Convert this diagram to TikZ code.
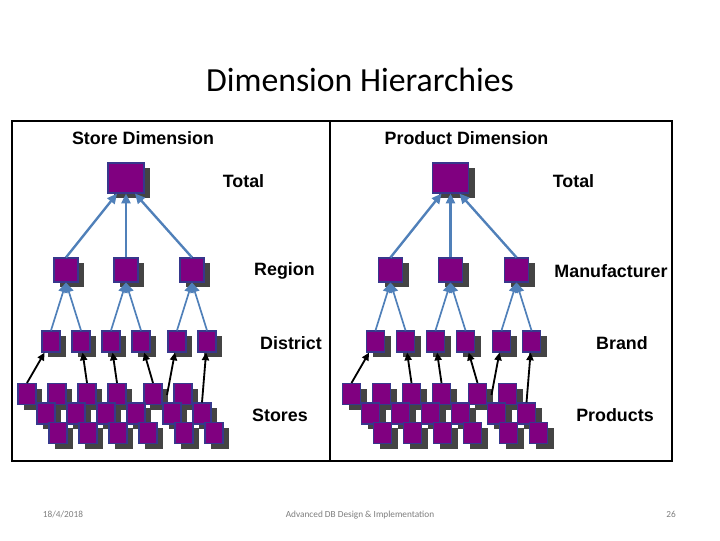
\documentclass[tikz,border=0pt]{standalone}
\usepackage{fontspec}
\setmainfont{Liberation Sans}
\newfontfamily\titlefont{Carlito}
\usetikzlibrary{arrows.meta,shadows}
\definecolor{viola}{RGB}{128,0,128}
\definecolor{bordo}{RGB}{55,55,140}
\definecolor{ombra}{RGB}{68,68,68}
\definecolor{azzurro}{RGB}{80,128,185}
\definecolor{grigio}{RGB}{125,125,125}
\tikzset{
>=Stealth,
square node/.style={rectangle,draw=bordo,line width=0.8pt,fill=viola,inner sep=0pt,
  drop shadow={shadow xshift=0.15cm,shadow yshift=-0.13cm,opacity=1,fill=ombra}},
total node/.style={square node,minimum width=0.9cm,minimum height=0.75cm},
level node/.style={square node,minimum width=0.6cm,minimum height=0.6cm},
base node/.style={square node,minimum width=0.45cm,minimum height=0.525cm},
blue arrow/.style={-{Triangle[length=7pt,width=6.5pt]},draw=azzurro,line width=1.7pt},
black arrow/.style={-{Triangle[length=5.5pt,width=5pt]},line width=1.3pt},
level label/.style={font=\fontsize{12.7}{15}\selectfont\bfseries},
footer/.style={font=\titlefont\fontsize{6.6}{8}\selectfont,text=grigio,anchor=base}}

\begin{document}
\begin{tikzpicture}[x=0.025cm,y=-0.025cm]
\useasboundingbox (0,0) rectangle (720,540);

\node[font=\titlefont\fontsize{24}{28}\selectfont] (titolo) at (360,80) {Dimension Hierarchies};
\draw[line width=1.5pt] (12,121) rectangle (672,461);
\draw[line width=1.5pt] (330,121) -- (330,461);

% le due gerarchie: st = negozi, pr = prodotti
\foreach \s/\dx in {st/0,pr/324.5}{
\begin{scope}[shift={(\dx,0)}]
  \node[total node] (\s-tot) at (126,178) {};
  \foreach \g/\gx in {1/0,2/60,3/126}{
    \node[level node] (\s-r\g) at (66+\gx,270) {};
    \foreach \j in {0,1}
      \node[base node] (\s-d\g\j) at (51+\gx+30*\j,341.5) {};
  }
  \foreach \row/\rx/\ry in {1/27/394,2/46/413.5,3/58/433}
    \foreach \g/\gx in {1/0,2/60,3/126}
      \foreach \j in {0,1}
        \node[base node] (\s-\g\j-\row) at (\rx+\gx+30*\j,\ry) {};
  \coordinate (\s-c5) at (167,395);

  \foreach \g/\a in {1/-120,2/-90,3/-60}
    \draw[blue arrow] (\s-r\g.north) -- (\s-tot.\a);
  \foreach \g in {1,2,3}
    \foreach \j in {0,1}
      \draw[blue arrow,line width=1.2pt] (\s-d\g\j.north) -- (\s-r\g.south);

  \draw[black arrow] (\s-10-1.north) -- (\s-d10);
  \draw[black arrow] (\s-20-1.north) -- (\s-d11);
  \draw[black arrow] (\s-21-1.north) -- (\s-d20);
  \draw[black arrow] (\s-30-1.north) -- (\s-d21);
  \draw[black arrow] (\s-c5) -- (\s-d30);
  \draw[black arrow] (\s-31-2.north) -- (\s-d31);
\end{scope}}

\node[level label] (st-nome) at (143,138) {Store Dimension};
\node[level label] (st-l1) at (243.5,181) {Total};
\node[level label] (st-l2) at (284.5,271) {Region};
\node[level label] (st-l3) at (291,343) {District};
\node[level label] (st-l4) at (280,415) {Stores};
\node[level label] (pr-nome) at (466.5,138) {Product Dimension};
\node[level label] (pr-l1) at (573.5,181) {Total};
\node[level label] (pr-l2) at (611,271) {Manufacturer};
\node[level label] (pr-l3) at (622,343) {Brand};
\node[level label] (pr-l4) at (615,415) {Products};

\node[footer] (data) at (63,517) {18/4/2018};
\node[footer] (corso) at (360,517) {Advanced DB Design \& Implementation};
\node[footer] (pagina) at (671,517) {26};
\end{tikzpicture}
\end{document}
